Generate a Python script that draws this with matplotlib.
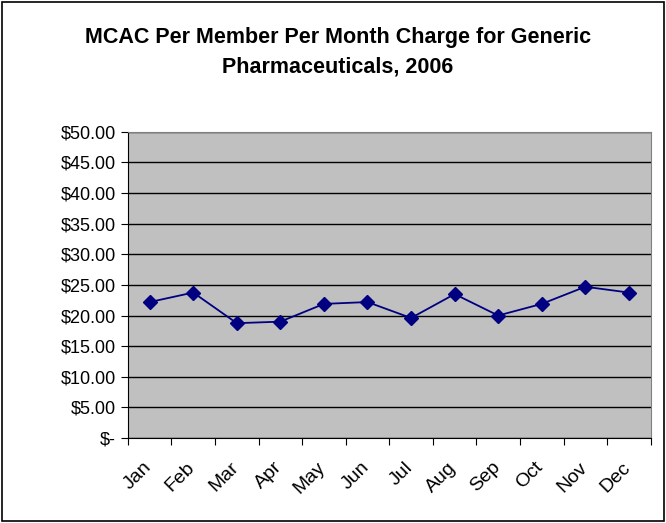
import matplotlib.pyplot as plt
import matplotlib.transforms as mtransforms
import numpy as np
from matplotlib.ticker import FixedLocator

plt.rcParams['font.family'] = ['Liberation Sans', 'DejaVu Sans']

months = ["Jan", "Feb", "Mar", "Apr", "May", "Jun",
          "Jul", "Aug", "Sep", "Oct", "Nov", "Dec"]
pmpm = [22.2, 23.75, 18.75, 19.0, 21.9, 22.2,
        19.6, 23.5, 20.0, 21.9, 24.7, 23.75]
y_ticks = [0, 5, 10, 15, 20, 25, 30, 35, 40, 45, 50]
y_labels = ["$-", "$5.00", "$10.00", "$15.00", "$20.00", "$25.00",
            "$30.00", "$35.00", "$40.00", "$45.00", "$50.00"]

fig = plt.figure(figsize=(6.66, 5.23), dpi=100)
ax = fig.add_axes([0.192, 0.1625, 0.785, 0.5855])

x = np.arange(len(months)) + 0.5
ax.set_facecolor("#C0C0C0")
ax.plot(x, pmpm, color="#000080", marker="D", markersize=7.5, linewidth=1.3, zorder=3)

ax.set_xlim(0, len(months))
ax.set_ylim(0, 50)

# gridlines at each $5
ax.set_yticks(y_ticks)
ax.set_yticklabels(y_labels, fontsize=13)
ax.yaxis.grid(True, color="black", linewidth=1)
ax.set_axisbelow(True)

# category boundaries get the tick marks, centers get the labels
ax.xaxis.set_major_locator(FixedLocator(np.arange(len(months) + 1)))
ax.xaxis.set_minor_locator(FixedLocator(x))
ax.set_xticklabels([""] * (len(months) + 1))
ax.set_xticklabels(months, minor=True, rotation=45, ha="right",
                   rotation_mode="anchor", fontsize=14)
ax.tick_params(axis="x", which="minor", length=0, pad=15)
ax.tick_params(axis="both", which="major", length=5, color="black")

# nudge month labels a bit to the left, like Excel does
shift = mtransforms.ScaledTranslation(-7 / 100, 0, fig.dpi_scale_trans)
for lab in ax.xaxis.get_minorticklabels():
    lab.set_transform(lab.get_transform() + shift)

for s in ax.spines.values():
    s.set_color("#808080")
ax.spines["left"].set_color("black")
ax.spines["bottom"].set_color("black")

fig.text(0.507, 0.90, "MCAC Per Member Per Month Charge for Generic\nPharmaceuticals, 2006",
         ha="center", va="center", fontsize=15.5, fontweight="bold", linespacing=1.5)

fig.patches.append(plt.Rectangle((0.003, 0.003), 0.994, 0.994, transform=fig.transFigure,
                                 fill=False, edgecolor="black", linewidth=1.2))

fig.savefig("out.png", dpi=100)
